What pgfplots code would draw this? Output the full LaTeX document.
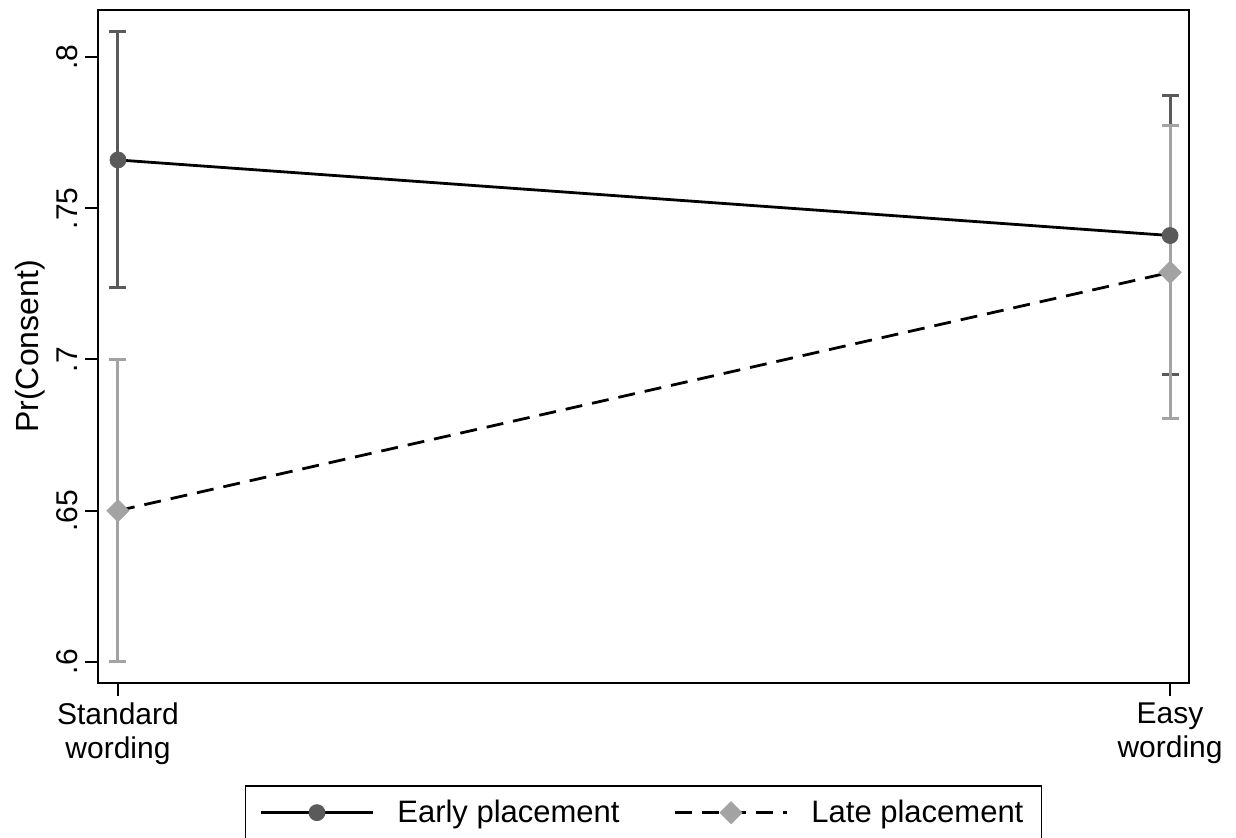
\documentclass[border=0pt]{standalone}
\usepackage{fontspec}
\setmainfont{Liberation Sans}
\usepackage{pgfplots}
\usepackage{pgfplotstable}
\pgfplotsset{compat=1.18}
\definecolor{cDark}{RGB}{90,90,90}
\definecolor{cLight}{RGB}{163,163,163}
% x: 0 = Standard wording, 1 = Easy wording; ep/em = upper/lower CI distance
\pgfplotstableread{
x y ep em
0 0.766 0.0426 0.0422
1 0.741 0.0464 0.0460
}\early
\pgfplotstableread{
x y ep em
0 0.650 0.0500 0.0500
1 0.7288 0.0487 0.0483
}\late
\begin{document}
\begin{tikzpicture}
\path[use as bounding box] (-49pt,-77.5pt) rectangle (569pt,341.5pt);
\begin{axis}[
 at={(0pt,0pt)}, anchor=south west,
 scale only axis, width=545.5pt, height=336.5pt,
 xmin=-0.019, xmax=1.018, ymin=0.593, ymax=0.8156,
 axis line style={line width=1pt, black},
 xtick={0,1}, xticklabels={Standard\\wording, Easy\\wording},
 x tick label style={align=center, font=\fontsize{15}{17}\selectfont},
 ytick={0.6,0.65,0.7,0.75,0.8}, yticklabels={.6,.65,.7,.75,.8},
 y tick label style={rotate=90, anchor=south, font=\fontsize{15}{16}\selectfont},
 tick align=outside, tick pos=left, major tick length=6.5pt,
 tick style={line width=1pt, black},
 ylabel={Pr(Consent)},
 ylabel style={at={(axis description cs:-0.0625,0.5)}, anchor=center, font=\fontsize{16}{17}\selectfont},
 legend columns=2,
 legend cell align=left,
 legend style={at={(axis description cs:0.5,-0.1516)}, anchor=north, draw=black, line width=0.9pt,
   font=\fontsize{15.5}{17}\selectfont, inner xsep=7pt, inner ysep=5pt,
   /tikz/every odd column/.append style={column sep=9.5pt},
   /tikz/every even column/.append style={column sep=25pt}},
 legend image code/.code={\draw[mark repeat=2,mark phase=2,#1] plot coordinates {(0pt,0pt) (28pt,0pt) (56pt,0pt)};},
]
\addplot[forget plot, only marks, mark=none, draw=cDark, line width=1.5pt,
  error bars/.cd, y dir=both, y explicit,
  error bar style={draw=cDark, line width=1.5pt, solid},
  error mark options={draw=cDark, line width=1.5pt, mark size=4.25pt, rotate=90}]
  table[x=x, y=y, y error plus=ep, y error minus=em]{\early};
\addplot[forget plot, only marks, mark=none, draw=cLight, line width=1.5pt,
  error bars/.cd, y dir=both, y explicit,
  error bar style={draw=cLight, line width=1.5pt, solid},
  error mark options={draw=cLight, line width=1.5pt, mark size=4.25pt, rotate=90}]
  table[x=x, y=y, y error plus=ep, y error minus=em]{\late};
\addplot[black, line width=1.4pt, mark=*, mark size=4pt,
  mark options={fill=cDark, draw=cDark, line width=0.4pt, solid}]
  table[x=x, y=y]{\early};
\addlegendentry{Early placement}
\addplot[black, line width=1.4pt, dash pattern=on 8.5pt off 5pt, mark=square*, mark size=3.9pt,
  mark options={rotate=45, fill=cLight, draw=cLight, line width=0.4pt, solid}]
  table[x=x, y=y]{\late};
\addlegendentry{Late placement}
\end{axis}
\end{tikzpicture}
\end{document}
